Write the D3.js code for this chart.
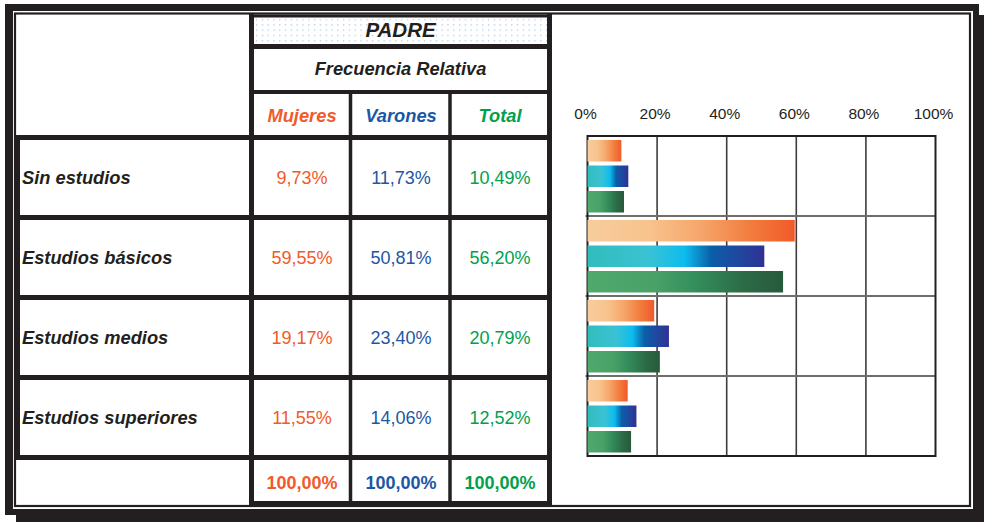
<!DOCTYPE html>
<html><head><meta charset="utf-8">
<script src="https://cdn.jsdelivr.net/npm/d3@7"></script>
<style>html,body{margin:0;padding:0;background:#fff}svg{display:block}</style>
</head><body>
<script>
const categories = ["Sin estudios","Estudios básicos","Estudios medios","Estudios superiores"];
const seriesNames = ["Mujeres","Varones","Total"];
const mujeres = [9.73,59.55,19.17,11.55];
const varones = [11.73,50.81,23.40,14.06];
const total = [10.49,56.20,20.79,12.52];
const columnTotals = [100,100,100];
const xTicks = [0,20,40,60,80,100];
const title = "PADRE";
const subtitle = "Frecuencia Relativa";

const seriesValues = [mujeres, varones, total];
const textColors = ["#f15a29","#1c57a5","#00a14b"];
const gradStops = [
  [["0","#f7cd9d"],["0.3","#f8c38c"],["0.55","#f6a56a"],["0.8","#f27a3c"],["1","#f15a29"]],
  [["0","#33bcbc"],["0.35","#3ac2d4"],["0.55","#0cbcee"],["0.7","#0b5ea8"],["0.85","#1f48a0"],["1","#2e3192"]],
  [["0","#4fa96d"],["0.35","#49a168"],["0.55","#348e5c"],["0.8","#2c6b46"],["1","#27593b"]]
];
const dark = "#231f20";
const font = "'Liberation Sans', Arial, Helvetica, sans-serif";
const fmt = v => d3.format(".2f")(v).replace(".", ",") + "%";

const W = 984, H = 522;
const svg = d3.select("body").append("svg").attr("width", W).attr("height", H);
const defs = svg.append("defs");
gradStops.forEach((stops, i) => {
  const g = defs.append("linearGradient").attr("id", "g" + i)
    .attr("x1", "0").attr("x2", "1").attr("y1", "0").attr("y2", "0");
  stops.forEach(s => g.append("stop").attr("offset", s[0]).attr("stop-color", s[1]));
});
const pat = defs.append("pattern").attr("id", "dots").attr("patternUnits", "userSpaceOnUse")
  .attr("x", 254).attr("y", 17).attr("width", 5.8).attr("height", 5.3);
pat.append("rect").attr("x", 2).attr("y", 2).attr("width", 1.2).attr("height", 1.2).attr("fill", "#a3bfea");

// frame with shadow
svg.append("rect").attr("x", 16).attr("y", 15).attr("width", 968).attr("height", 507).attr("fill", dark);
svg.append("rect").attr("x", 5).attr("y", 4).attr("width", 974).attr("height", 511).attr("fill", dark);
svg.append("rect").attr("x", 13).attr("y", 11).attr("width", 960).attr("height", 498).attr("fill", "#fff");
svg.append("rect").attr("x", 15).attr("y", 13.5).attr("width", 955).attr("height", 492.5)
  .attr("fill", "none").attr("stroke", dark).attr("stroke-width", 2.2);

// ---------- table ----------
const rowY = d3.scaleBand().domain(categories).range([137.5, 457.5]);
const colCenters = [302, 401, 500];

// PADRE cell background
svg.append("rect").attr("x", 254).attr("y", 17).attr("width", 293).attr("height", 27).attr("fill", "url(#dots)");

const line = (x1, y1, x2, y2, w, c) => svg.append("line")
  .attr("x1", x1).attr("y1", y1).attr("x2", x2).attr("y2", y2)
  .attr("stroke", c || dark).attr("stroke-width", w);

line(251.5, 14, 251.5, 506, 5);
line(549.5, 14, 549.5, 506, 5);
line(251.5, 16, 549.5, 16, 3);
line(251.5, 46.5, 549.5, 46.5, 5);
line(251.5, 92, 549.5, 92, 4);
line(350.5, 92, 350.5, 503, 3.5);
line(450, 92, 450, 503, 3.5);
line(14, 137.5, 549.5, 137.5, 5);
categories.forEach(c => line(14, rowY(c) + rowY.bandwidth(), 549.5, rowY(c) + rowY.bandwidth(), 5));
line(17, 137.5, 17, 458, 6);
line(251.5, 503, 549.5, 503, 4);

const txt = (x, y, s, opts) => {
  const t = svg.append("text").attr("x", x).attr("y", y).text(s)
    .attr("font-family", font).attr("fill", opts.fill || dark)
    .attr("font-size", opts.size || 18).attr("text-anchor", opts.anchor || "middle");
  if (opts.bold) t.attr("font-weight", "bold");
  if (opts.italic) t.attr("font-style", "italic");
  return t;
};

txt(400.5, 37, title, {size: 20.5, bold: true, italic: true});
txt(400.5, 75, subtitle, {size: 18.3, bold: true, italic: true});
seriesNames.forEach((s, i) => txt(colCenters[i], 122, s, {size: 18.3, bold: true, italic: true, fill: textColors[i]}));

categories.forEach((c, r) => {
  const cy = rowY(c) + rowY.bandwidth() / 2;
  txt(22, cy + 6.3, c, {size: 18.3, bold: true, italic: true, anchor: "start"});
  seriesValues.forEach((vals, i) => txt(colCenters[i], cy + 6.5, fmt(vals[r]), {size: 18, fill: textColors[i]}));
});
columnTotals.forEach((v, i) => txt(colCenters[i], 488.5, fmt(v), {size: 18, bold: true, fill: textColors[i]}));

// ---------- chart ----------
const x = d3.scaleLinear().domain([0, 100]).range([587.5, 935.5]);
const y = d3.scaleBand().domain(categories).range([136, 456]);
const yInner = d3.scaleBand().domain(seriesNames).range([4, 76.5]).paddingInner(0.157).paddingOuter(0);

const chart = svg.append("g");
chart.selectAll("text.tick").data(xTicks).enter().append("text")
  .attr("class", "tick").attr("x", d => x(d) - 2).attr("y", 118.5)
  .attr("text-anchor", "middle").attr("font-family", font).attr("font-size", 15.5)
  .attr("fill", dark).text(d => d + "%");

chart.selectAll("line.vg").data(xTicks.slice(1, -1)).enter().append("line")
  .attr("x1", d => x(d)).attr("x2", d => x(d)).attr("y1", 136).attr("y2", 456)
  .attr("stroke", "#3d3d3d").attr("stroke-width", 1.6);
chart.selectAll("line.hg").data(categories.slice(1)).enter().append("line")
  .attr("x1", x(0) - 2).attr("x2", x(100)).attr("y1", d => y(d)).attr("y2", d => y(d))
  .attr("stroke", "#6e6e6e").attr("stroke-width", 2);
chart.append("rect").attr("x", x(0)).attr("y", y.range()[0]).attr("width", x(100) - x(0))
  .attr("height", y.range()[1] - y.range()[0]).attr("fill", "none")
  .attr("stroke", dark).attr("stroke-width", 2);

categories.forEach((c, r) => {
  seriesValues.forEach((vals, i) => {
    chart.append("rect")
      .attr("x", x(0)).attr("y", y(c) + yInner(seriesNames[i]))
      .attr("width", x(vals[r]) - x(0)).attr("height", yInner.bandwidth())
      .attr("fill", "url(#g" + i + ")");
  });
});
</script>
</body></html>
